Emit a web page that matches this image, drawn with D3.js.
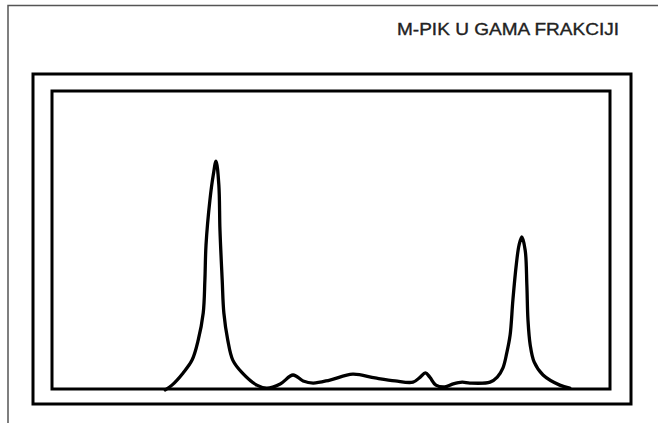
<!DOCTYPE html>
<html>
<head>
<meta charset="utf-8">
<script src="https://cdn.jsdelivr.net/npm/d3@7"></script>
<style>
  body { margin: 0; background: #fff; }
  svg { display: block; }
</style>
</head>
<body>
<svg id="chart" width="658" height="423"></svg>
<script>
// title
const title = 'M-PIK U GAMA FRAKCIJI';

// electrophoresis trace: relative mobility (0-100) and intensity (0-100)
const mobility = [
    20.3, 21.5, 23.5, 25.1, 26.2, 27.1, 27.4, 27.6, 28.3, 28.9,
    29.4, 29.9, 30.1, 30.5, 30.8, 31.5, 32.4, 34.1, 36.7, 38.5,
    40.9, 43.2, 45.0, 46.8, 49.8, 53.9, 57.9, 61.5, 64.7, 66.0,
    66.9, 67.7, 68.8, 70.4, 71.9, 73.5, 74.9, 78.5, 79.8, 80.8,
    81.5, 82.1, 82.6, 83.2, 83.7, 84.2, 84.8, 85.1, 85.3, 85.7,
    86.4, 88.0, 91.0, 92.8
];
const intensity = [
    -0.3, 1.3, 5.4, 9.7, 16.4, 25.5, 36.6, 48.3, 63.4, 71.8,
    76.5, 68.5, 53.4, 36.6, 25.5, 16.4, 9.7, 5.4, 1.3, 0.3,
    1.7, 4.7, 2.7, 2.0, 3.0, 5.0, 3.7, 2.7, 2.3, 4.0,
    5.4, 4.0, 1.3, 0.7, 1.7, 2.3, 2.0, 2.3, 4.0, 7.0,
    12.1, 18.1, 29.9, 41.6, 48.3, 51.0, 46.6, 34.9, 23.2, 14.8,
    9.1, 4.7, 1.3, 0.3
];

const svg = d3.select('#chart');
const W = +svg.attr('width'), H = +svg.attr('height');

// page frame
svg.append('path')
    .attr('d', `M8,${H} L8,5.5 L${W},5.5`)
    .attr('fill', 'none')
    .attr('stroke', '#555')
    .attr('stroke-width', 1.5);

svg.append('text')
    .attr('x', 397)
    .attr('y', 35)
    .attr('textLength', 222)
    .attr('lengthAdjust', 'spacingAndGlyphs')
    .attr('font-family', 'Liberation Sans, Arial, sans-serif')
    .attr('font-size', 17)
    .attr('fill', '#222')
    .attr('stroke', '#222')
    .attr('stroke-width', 0.35)
    .text(title);

// double frame
const outer = {x: 33, y: 74, w: 598, h: 330};
const inner = {x: 52, y: 91, w: 558, h: 298};

svg.append('rect')
    .attr('x', outer.x).attr('y', outer.y)
    .attr('width', outer.w).attr('height', outer.h)
    .attr('fill', 'none').attr('stroke', '#000').attr('stroke-width', 3);

svg.append('rect')
    .attr('x', inner.x).attr('y', inner.y)
    .attr('width', inner.w).attr('height', inner.h)
    .attr('fill', 'none').attr('stroke', '#000').attr('stroke-width', 3);

const x = d3.scaleLinear().domain([0, 100]).range([inner.x, inner.x + inner.w]);
const y = d3.scaleLinear().domain([0, 100]).range([inner.y + inner.h, inner.y]);

const points = mobility.map((m, i) => [m, intensity[i]]);

const line = d3.line()
    .x(d => x(d[0]))
    .y(d => y(d[1]))
    .curve(d3.curveCatmullRom.alpha(0.5));

svg.append('path')
    .datum(points)
    .attr('d', line)
    .attr('fill', 'none')
    .attr('stroke', '#000')
    .attr('stroke-width', 3.3)
    .attr('stroke-linejoin', 'round')
    .attr('stroke-linecap', 'round');
</script>
</body>
</html>
